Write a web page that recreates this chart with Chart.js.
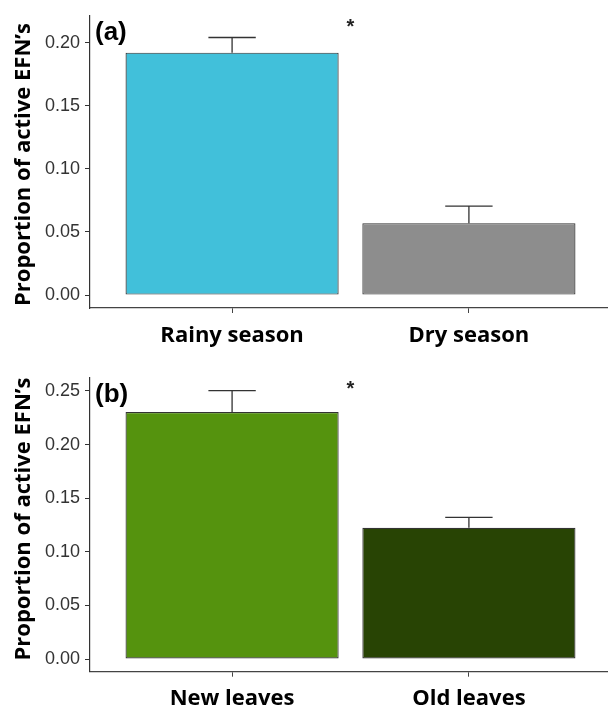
<!DOCTYPE html>
<html>
<head>
<meta charset="utf-8">
<script src="https://cdn.jsdelivr.net/npm/chart.js@4"></script>
<style>
  html, body { margin: 0; padding: 0; background: #fff; overflow: hidden; width: 608px; height: 710px; }
  .panel { position: absolute; left: 0; width: 612px; height: 355px; }
  #pa { top: 0; }
  #pb { top: 355px; }
</style>
</head>
<body>
<div class="panel" id="pa"><canvas id="ca" width="612" height="355"></canvas></div>
<div class="panel" id="pb"><canvas id="cb" width="612" height="355"></canvas></div>
<script>
// (a) season
const seasonLabels = ['Rainy season', 'Dry season'];
const seasonMeans = [0.192, 0.057];
const seasonSE = [0.012, 0.0134];
const seasonColors = ['#41C0DA', '#8D8D8D'];
const seasonTicks = [0, 0.05, 0.10, 0.15, 0.20];

// (b) leaf age
const leafLabels = ['New leaves', 'Old leaves'];
const leafMeans = [0.2304, 0.1225];
const leafSE = [0.0199, 0.0097];
const leafColors = ['#55930E', '#284404'];
const leafTicks = [0, 0.05, 0.10, 0.15, 0.20, 0.25];

const yTitle = 'Proportion of active EFN\u2019s';
const labelFont = '"Open Sans", "DejaVu Sans", sans-serif';
const tickFont = '"Liberation Sans", Arial, sans-serif';

function drawPanel(canvasId, o) {
  const points = o.labels.map((_, i) => ({ x: i + 1, y: o.means[i] }));

  // error bars, significance mark, panel letter and the y title
  const extras = {
    id: 'extras_' + canvasId,
    afterDatasetsDraw(chart) {
      const c = chart.ctx;
      const xs = chart.scales.x, ys = chart.scales.y;
      c.save();
      c.strokeStyle = '#333';
      c.lineWidth = 1.3;
      o.means.forEach((m, i) => {
        const xc = xs.getPixelForValue(i + 1);
        const xl = xs.getPixelForValue(i + 1 - 0.1);
        const xr = xs.getPixelForValue(i + 1 + 0.1);
        const yb = ys.getPixelForValue(m);
        const yt = ys.getPixelForValue(m + o.se[i]);
        c.beginPath();
        c.moveTo(xc, yb); c.lineTo(xc, yt);
        c.moveTo(xl, yt); c.lineTo(xr, yt);
        c.stroke();
      });
      c.restore();
    },
    afterDraw(chart) {
      const c = chart.ctx;
      const xs = chart.scales.x, ys = chart.scales.y;
      const area = chart.chartArea;
      c.save();
      // significance asterisk between the bars
      c.fillStyle = '#222';
      c.font = 'bold 20px ' + tickFont;
      c.textAlign = 'center';
      c.textBaseline = 'alphabetic';
      c.fillText('*', xs.getPixelForValue(1.5), ys.getPixelForValue(o.sigY) + 8);
      // panel letter
      c.fillStyle = '#000';
      c.font = 'bold 26px ' + tickFont;
      c.textAlign = 'left';
      c.fillText(o.letter, area.left + 5, o.letterBase);
      // y-axis title
      c.translate(23.5, o.titleY);
      c.rotate(-Math.PI / 2);
      c.font = 'bold 22px ' + labelFont;
      c.textAlign = 'center';
      c.textBaseline = 'middle';
      c.fillText(yTitle, 0, 0);
      c.restore();
    }
  };

  return new Chart(document.getElementById(canvasId), {
    type: 'bar',
    data: {
      datasets: [{
        data: points,
        backgroundColor: o.colors,
        borderColor: '#333',
        borderWidth: 1.2,
        borderSkipped: false,
        barPercentage: 0.9,
        categoryPercentage: 1.0
      }]
    },
    options: {
      responsive: false,
      animation: false,
      devicePixelRatio: 1,
      layout: { padding: { top: o.padTop, right: 1, left: 0, bottom: 0 } },
      plugins: { legend: { display: false }, tooltip: { enabled: false } },
      scales: {
        x: {
          type: 'linear',
          min: 0.4,
          max: 2.6,
          offset: false,
          afterBuildTicks: s => { s.ticks = o.labels.map((_, i) => ({ value: i + 1 })); },
          afterFit: s => { s.height = o.xHeight; },
          ticks: {
            callback: (v, i) => o.labels[i],
            font: { family: labelFont, size: 22, weight: 'bold' },
            color: '#000',
            padding: o.xPad,
            maxRotation: 0,
            autoSkip: false
          },
          grid: { drawOnChartArea: false, drawTicks: true, tickLength: 5, color: '#444', offset: false },
          border: { display: true, color: '#444', width: 1.3 }
        },
        y: {
          min: o.yMin,
          max: o.yMax,
          afterBuildTicks: s => { s.ticks = o.ticks.map(v => ({ value: v })); },
          afterFit: s => { s.width = 90; },
          ticks: {
            callback: v => Number(v).toFixed(2),
            font: { family: tickFont, size: 18 },
            color: '#333',
            padding: 5
          },
          grid: { drawOnChartArea: false, drawTicks: true, tickLength: 5, color: '#333' },
          border: { display: true, color: '#333', width: 1.2 }
        }
      }
    },
    plugins: [extras]
  });
}

drawPanel('ca', {
  labels: seasonLabels, means: seasonMeans, se: seasonSE, colors: seasonColors, ticks: seasonTicks,
  yMin: -0.0102, yMax: 0.2212, padTop: 13, xHeight: 47, xPad: 10,
  sigY: 0.2136, letter: '(a)', letterBase: 40, titleY: 164.5
});

drawPanel('cb', {
  labels: leafLabels, means: leafMeans, se: leafSE, colors: leafColors, ticks: leafTicks,
  yMin: -0.0118, yMax: 0.2624, padTop: 22.7, xHeight: 38.3, xPad: 9,
  sigY: 0.2534, letter: '(b)', letterBase: 47, titleY: 164
});
</script>
</body>
</html>
